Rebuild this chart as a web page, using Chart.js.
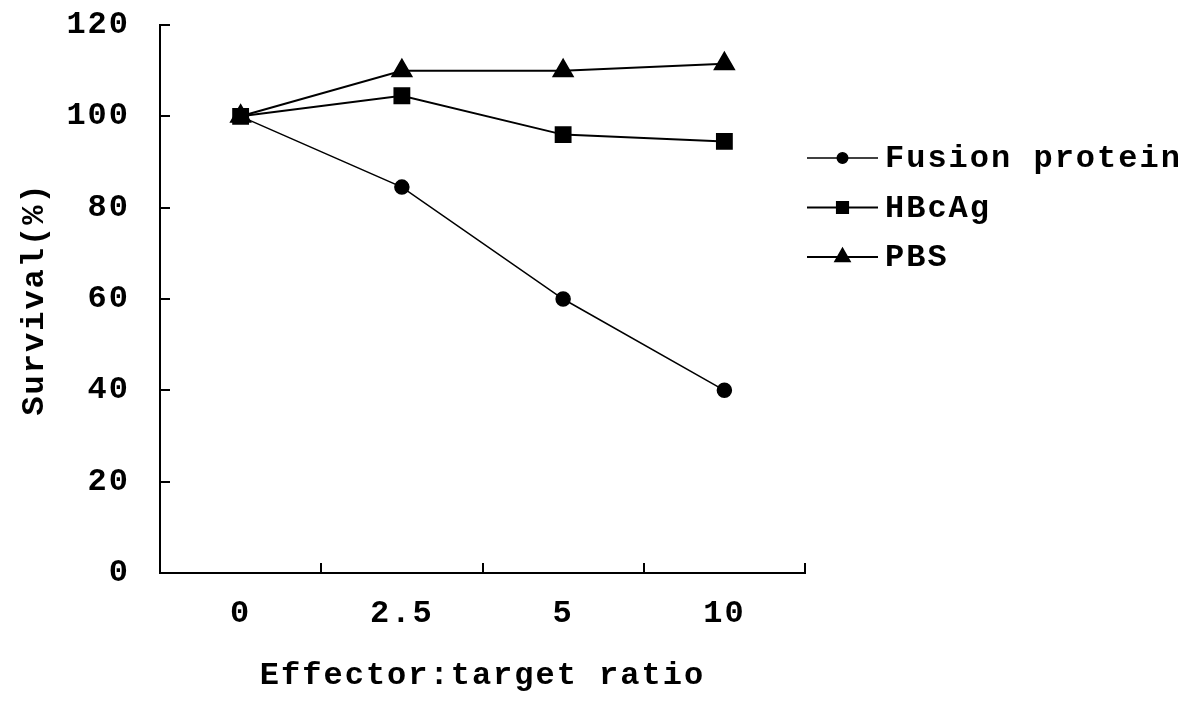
<!DOCTYPE html>
<html>
<head>
<meta charset="utf-8">
<script src="https://cdn.jsdelivr.net/npm/chart.js@4.4.0/dist/chart.umd.min.js"></script>
<style>
  html, body { margin: 0; padding: 0; background: #fff; }
  #wrap { width: 1200px; height: 706px; }
</style>
</head>
<body>
<div id="wrap"><canvas id="myChart"></canvas></div>
<script>
const ratios = ['0', '2.5', '5', '10'];
const fusionProtein = [100, 84.5, 60, 40];
const hbcag = [100, 104.5, 96, 94.5];
const pbs = [100, 110, 110, 111.5];
const yTicks = [0, 20, 40, 60, 80, 100, 120];

const FONT = '"Liberation Mono", "DejaVu Sans Mono", monospace';

// the legend on the right: line + marker + label
const sideLegend = {
    id: 'sideLegend',
    afterDraw(chart) {
        const ctx = chart.ctx;
        const area = chart.chartArea;
        ctx.save();
        ctx.letterSpacing = '2px';
        ctx.font = 'bold 32px ' + FONT;
        ctx.fillStyle = '#000';
        ctx.strokeStyle = '#000';
        ctx.textBaseline = 'middle';
        chart.data.datasets.forEach(function(ds, i) {
            const y = area.top + 133 + i * 49.5;
            const x0 = area.right + 2;
            const x1 = area.right + 73;
            ctx.lineWidth = ds.borderWidth;
            ctx.beginPath();
            ctx.moveTo(x0, y);
            ctx.lineTo(x1, y);
            ctx.stroke();
            Chart.helpers.drawPoint(ctx, {
                pointStyle: ds.pointStyle,
                radius: ds.pointRadius * 0.75,
                borderWidth: 1,
                rotation: 0
            }, (x0 + x1) / 2, y);
            ctx.fillText(ds.label, area.right + 80, y + 1);
        });
        ctx.restore();
    }
};

const spacing = {
    id: 'spacing',
    beforeDraw(chart) {
        chart.ctx.letterSpacing = '2px';
    }
};

const myChart = document.getElementById('myChart').getContext('2d');
const chart = new Chart(myChart, {
    type: 'line',
    data: {
        labels: ratios,
        datasets: [{
            label: 'Fusion protein',
            data: fusionProtein,
            borderColor: '#000',
            backgroundColor: '#000',
            borderWidth: 1.5,
            pointStyle: 'circle',
            pointRadius: 7
        }, {
            label: 'HBcAg',
            data: hbcag,
            borderColor: '#000',
            backgroundColor: '#000',
            borderWidth: 2,
            pointStyle: 'rect',
            pointRadius: 10.5
        }, {
            label: 'PBS',
            data: pbs,
            borderColor: '#000',
            backgroundColor: '#000',
            borderWidth: 2,
            pointStyle: 'triangle',
            pointRadius: 11
        }]
    },
    options: {
        responsive: true,
        maintainAspectRatio: false,
        animation: false,
        layout: {
            padding: { top: 25, right: 395, left: 0, bottom: 0 }
        },
        plugins: {
            legend: { display: false },
            tooltip: { enabled: false }
        },
        scales: {
            x: {
                offset: true,
                grid: {
                    offset: true,
                    drawOnChartArea: false,
                    drawTicks: true,
                    tickLength: -10,
                    color: '#000',
                    lineWidth: 2
                },
                border: { color: '#000', width: 2 },
                ticks: {
                    color: '#000',
                    font: { family: FONT, size: 32, weight: 'bold' },
                    padding: 32,
                    maxRotation: 0
                },
                title: {
                    display: true,
                    text: 'Effector:target ratio',
                    color: '#000',
                    font: { family: FONT, size: 32, weight: 'bold' },
                    padding: { top: 8, bottom: 11 }
                },
                afterFit(scale) {
                    scale.height = 133;
                    scale.paddingLeft = 0;
                    scale.paddingRight = 0;
                }
            },
            y: {
                min: 0,
                max: 120,
                afterBuildTicks(scale) {
                    scale.ticks = yTicks.map(v => ({ value: v }));
                },
                grid: {
                    drawOnChartArea: false,
                    drawTicks: true,
                    tickLength: -10,
                    color: '#000',
                    lineWidth: 2
                },
                border: { color: '#000', width: 2 },
                ticks: {
                    color: '#000',
                    font: { family: FONT, size: 32, weight: 'bold' },
                    padding: 40
                },
                title: {
                    display: true,
                    text: 'Survival(%)',
                    color: '#000',
                    font: { family: FONT, size: 32, weight: 'bold' },
                    padding: { top: 16, bottom: 0 }
                },
                afterFit(scale) {
                    scale.width = 160;
                    scale.paddingTop = 0;
                    scale.paddingBottom = 0;
                }
            }
        }
    },
    plugins: [spacing, sideLegend]
});
</script>
</body>
</html>
